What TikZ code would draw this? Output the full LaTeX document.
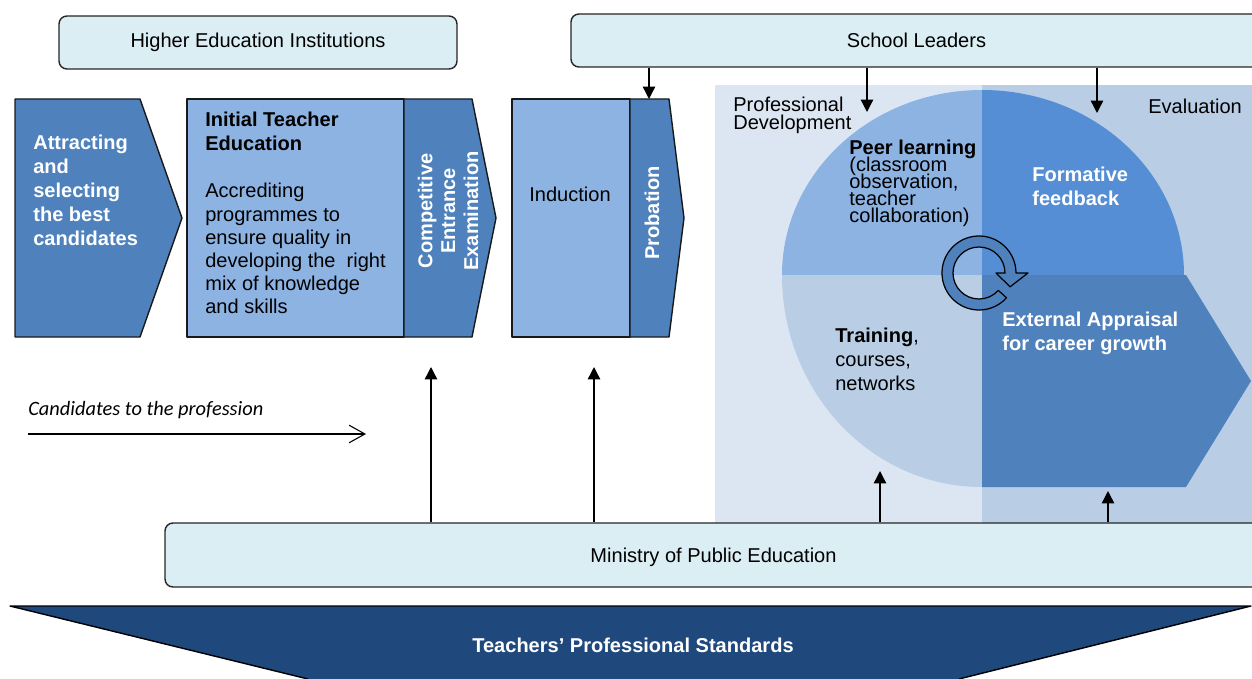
\documentclass[tikz,border=0pt]{standalone}
\usepackage{fontspec}
\setmainfont{Liberation Sans}
\newfontfamily\candfont{Carlito}
\usetikzlibrary{arrows.meta,positioning}

\definecolor{actorfill}{HTML}{DBEEF4}
\definecolor{stagedark}{HTML}{4F81BD}
\definecolor{stagelight}{HTML}{8DB3E2}
\definecolor{panelpale}{HTML}{DCE6F2}
\definecolor{panelmid}{HTML}{B9CDE5}
\definecolor{feedbackblue}{HTML}{558ED5}
\definecolor{standardblue}{HTML}{1F497D}

% one unit = one pixel of the layout grid
\newlength\pxu \setlength\pxu{0.02cm}
\newcommand\diagfont[1][13.6]{\fontsize{11.4}{#1}\selectfont}

\tikzset{
  actor/.style={draw=black!85, line width=0.8pt, fill=actorfill, rounded corners=8\pxu, font=\diagfont},
  stage/.style={draw=black!90, line width=0.8pt},
  txt/.style={inner sep=0pt, align=left, anchor=north west, font=\diagfont},
  whitetxt/.style={txt, text=white, font=\diagfont\bfseries},
  arr/.style={-{Triangle[width=7pt,length=7pt]}, line width=0.8pt},
}

\begin{document}
\begin{tikzpicture}[x=0.02cm, y=-0.02cm, line join=round]
  \useasboundingbox (0,0) rectangle (1252,679);

  % development / evaluation panels
  \fill[panelpale] (715,85) rectangle (982,523);
  \fill[panelmid] (982,85) rectangle (1252,523);

  % the four quarters
  \fill[stagelight] (982,275) -- (782,275) arc[start angle=180, end angle=270, x radius=200, y radius=185] -- cycle;
  \fill[feedbackblue] (982,275) -- (982,90) arc[start angle=270, end angle=360, x radius=202, y radius=185] -- cycle;
  \fill[panelmid] (982,275) -- (782,275) arc[start angle=180, end angle=90, x radius=200, y radius=212] -- cycle;
  \fill[stagedark] (982,275) -- (1186,275) -- (1251,381) -- (1186,487) -- (982,487) -- cycle;

  % cycle arrow
  \begin{scope}[shift={(979,273)}]
    \draw[fill=stagedark, line width=0.7pt] (42:37) arc[start angle=42, end angle=360, radius=37]
      -- (0:49) -- (24:34) -- (0:17) -- (0:26) arc[start angle=360, end angle=42, radius=26] -- cycle;
  \end{scope}

  \node[txt, font={\diagfont[10.2]}] (profdev) at (733,97) {Professional\\Development};
  \node[txt, anchor=west] (evaluation) at (1148,106) {Evaluation};
  \node[txt, font={\diagfont[9.6]\lineskiplimit=-20pt}] (peer) at (849,140) {\textbf{Peer learning}\\(classroom\\observation,\\teacher\\collaboration)};
  \node[whitetxt] (formative) at (1032,167) {Formative\\feedback};
  \node[txt] (training) at (835,328) {\textbf{Training},\\courses,\\networks};
  \node[whitetxt] (appraisal) at (1002,312) {External Appraisal\\for career growth};

  % stages of the career path
  \draw[stage, fill=stagedark] (15,99) -- (140,99) -- (182,218) -- (140,337) -- (15,337) -- cycle;
  \node[whitetxt] (attract) at (33,135) {Attracting\\and\\selecting\\the best\\candidates};

  \draw[stage, fill=stagelight] (187,99) rectangle (404,337);
  \node[txt, font={\diagfont\bfseries}] (ite) at (205,112) {Initial Teacher\\Education};
  \node[txt, font={\diagfont[13.2]}] (accredit) at (205,183) {Accrediting\\programmes to\\ensure quality in\\developing the\ \ right\\mix of knowledge\\and skills};

  \draw[stage, fill=stagedark] (404,99) -- (472,99) -- (496,218) -- (472,337) -- (404,337) -- cycle;
  \node[whitetxt, anchor=center, align=center, rotate=90, font={\diagfont[13]\bfseries}] (exam) at (448,211) {Competitive\\Entrance\\Examination};

  \draw[stage, fill=stagelight] (512,99) rectangle (630,337);
  \node[txt, anchor=center] (induction) at (570,194) {Induction};

  \draw[stage, fill=stagedark] (630,99) -- (669,99) -- (684,218) -- (669,337) -- (630,337) -- cycle;
  \node[whitetxt, anchor=center, rotate=90] (probation) at (652,213) {Probation};

  % actors
  \node[actor, minimum width=398\pxu, minimum height=53\pxu] (hei) at (258,42.5) {Higher Education Institutions};
  \node[actor, minimum width=691\pxu, minimum height=53\pxu] (leaders) at (916.5,40.5) {School Leaders};
  \node[actor, minimum width=1097\pxu, minimum height=64\pxu, text depth=0pt] (ministry) at (713.5,555) {Ministry of Public Education};

  % standards underneath
  \fill[standardblue] (10,606) -- (1251,606) -- (959,679) -- (308,679) -- cycle;
  \draw[line width=0.8pt] (308,679) -- (10,606) -- (1251,606) -- (959,679);
  \node[whitetxt, anchor=center] (standards) at (633,645) {Teachers’ Professional Standards};

  % candidates entering
  \node[txt, anchor=west, font={\candfont\itshape\fontsize{11.6}{14}\selectfont}] (candidates) at (28,410) {Candidates to the profession};
  \coordinate (candstart) at (28,434);
  \coordinate (candend) at (366,434);
  \draw[-{Straight Barb[length=9pt,width=10pt]}, line width=0.6pt] (candstart) -- (candend);

  % school leaders' influence
  \coordinate (probtop) at (649,99);
  \coordinate (peertop) at (867,112);
  \coordinate (feedtop) at (1097,113);
  \foreach \c in {probtop,peertop,feedtop}
    \draw[arr] (leaders.south -| \c) -- (\c);

  % ministry's influence
  \coordinate (examin) at (431,367);
  \coordinate (inductin) at (594,367);
  \coordinate (trainin) at (880,471);
  \coordinate (appraisin) at (1108,491);
  \foreach \c in {examin,inductin,trainin,appraisin}
    \draw[arr] (ministry.north -| \c) -- (\c);
\end{tikzpicture}
\end{document}
